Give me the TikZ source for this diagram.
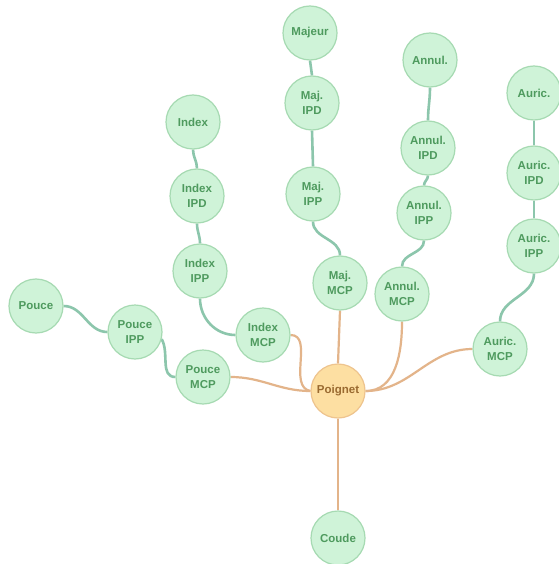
\documentclass[tikz,border=0pt]{standalone}
\usepackage{fontspec}
\setmainfont{Liberation Sans}
\usetikzlibrary{backgrounds}
\definecolor{nfill}{HTML}{CFF3D8}
\definecolor{ndraw}{HTML}{A6DAB2}
\definecolor{ntext}{HTML}{4E9A5E}
\definecolor{pfill}{HTML}{FDDFA2}
\definecolor{pdraw}{HTML}{EEC48E}
\definecolor{ptext}{HTML}{9A6A30}
\definecolor{gedge}{HTML}{8CC6AC}
\definecolor{oedge}{HTML}{E3B48A}
\tikzset{
  joint/.style={circle, fill=nfill, draw=ndraw, line width=1.2pt, minimum size=54pt, inner sep=0pt,
    text=ntext, font=\fontsize{11.5}{15}\selectfont\bfseries, align=center},
  wrist/.style={joint, fill=pfill, draw=pdraw, text=ptext},
  gline/.style={draw=gedge, line width=2.6pt},
  oline/.style={draw=oedge, line width=2.2pt}
}
\begin{document}
\begin{tikzpicture}[x=1pt,y=-1pt]
\useasboundingbox (0,0) rectangle (558,564);
% nodes
\node[joint] (maj) at (310,33) {Majeur};
\node[joint] (majipd) at (312,103) {Maj.\\IPD};
\node[joint] (majipp) at (313,194) {Maj.\\IPP};
\node[joint] (majmcp) at (340,283) {Maj.\\MCP};
\node[joint] (ann) at (430,60) {Annul.};
\node[joint] (annipd) at (428,148) {Annul.\\IPD};
\node[joint] (annipp) at (424,213) {Annul.\\IPP};
\node[joint] (annmcp) at (402,294) {Annul.\\MCP};
\node[joint] (aur) at (534,93) {Auric.};
\node[joint] (auripd) at (534,173) {Auric.\\IPD};
\node[joint] (auripp) at (534,246) {Auric.\\IPP};
\node[joint] (aurmcp) at (500,349) {Auric.\\MCP};
\node[joint] (idx) at (193,122) {Index};
\node[joint] (idxipd) at (197,196) {Index\\IPD};
\node[joint] (idxipp) at (200,271) {Index\\IPP};
\node[joint] (idxmcp) at (263,335) {Index\\MCP};
\node[joint] (pou) at (36,306) {Pouce};
\node[joint] (pouipp) at (135,332) {Pouce\\IPP};
\node[joint] (poumcp) at (203,377) {Pouce\\MCP};
\node[wrist] (poi) at (338,391) {Poignet};
\node[joint] (cou) at (338,538) {Coude};
% edges
\begin{scope}[on background layer]
\fill[white] (0,0) rectangle (558,564);
\draw[gline] (maj.south) -- (majipd.north);
\draw[gline] (majipd.south) -- (majipp.north);
\draw[gline] (majipp.south) to[out=-90,in=90] (majmcp.north);
\draw[gline] (ann.south) to[out=-90,in=90] (annipd.north);
\draw[gline] (annipd.south) to[out=-90,in=90] (annipp.north);
\draw[gline] (annipp.south) to[out=-90,in=90] (annmcp.north);
\draw[gline] (aur.south) -- (auripd.north);
\draw[gline] (auripd.south) -- (auripp.north);
\draw[gline] (auripp.south) to[out=-90,in=90] (aurmcp.north);
\draw[gline] (idx.south) to[out=-90,in=90] (idxipd.north);
\draw[gline] (idxipd.south) to[out=-90,in=90] (idxipp.north);
\draw[gline] (idxipp.south) to[out=-90,in=180] (idxmcp.west);
\draw[gline] (pou.east) to[out=0,in=180] (pouipp.west);
\draw[gline] (pouipp.-15) to[out=-60,in=180] (poumcp.west);
\draw[oline] (poumcp.east) to[out=0,in=180] (poi.west);
\draw[oline] (idxmcp.east) to[out=0,in=170] (poi.west);
\draw[oline] (majmcp.south) -- (poi.north);
\draw[oline] (annmcp.south) to[out=-90,in=0] (poi.east);
\draw[oline] (aurmcp.west) to[out=180,in=0] (poi.east);
\draw[oline] (poi.south) to[out=-90,in=90] (cou.north);
\end{scope}
\end{tikzpicture}
\end{document}
